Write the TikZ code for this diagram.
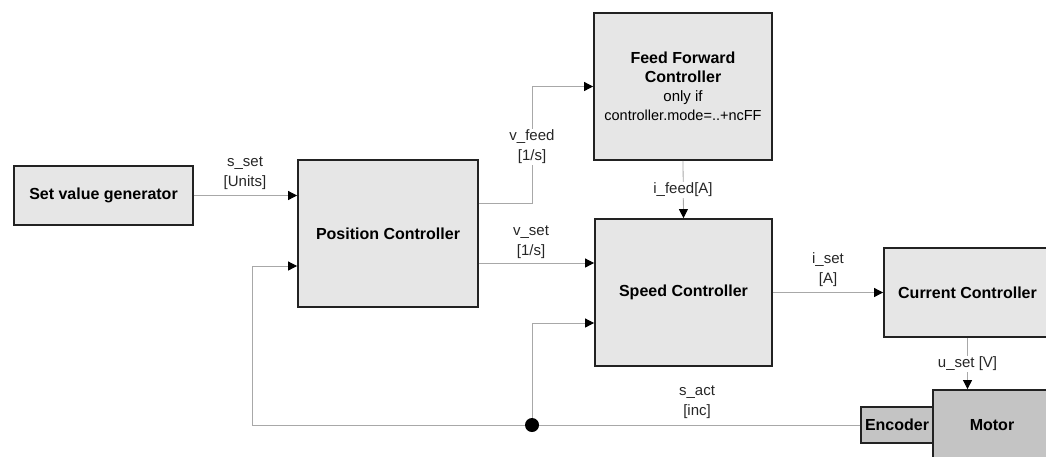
\documentclass[tikz,border=0pt]{standalone}
\usepackage{fontspec}
\setmainfont{Liberation Sans}
\usetikzlibrary{arrows.meta,positioning,calc}

\definecolor{linegray}{HTML}{A8A8A8}
\definecolor{boxfill}{HTML}{E6E6E6}
\definecolor{hwfill}{HTML}{C4C4C4}
\definecolor{boxline}{HTML}{222222}

\begin{document}
\begin{tikzpicture}[
  x=1pt, y=-1pt,
  font=\fontsize{15}{20}\selectfont,
  flow/.style={draw=linegray, line width=0.8pt, -{Triangle[length=9pt,width=9pt,color=black]}},
  wire/.style={draw=linegray, line width=0.8pt},
  block/.style={draw=boxline, fill=boxfill, line width=1.8pt, align=center, inner sep=2pt,
                font=\fontsize{16}{19}\selectfont\bfseries},
  hw/.style={block, fill=hwfill},
  sig/.style={align=center, inner sep=1pt, text=black!85},
  sigcut/.style={sig, fill=white}
]
\useasboundingbox (0,0) rectangle (1046,456);

% ----- Fixed coordinates for tidy layout
\coordinate (Cgen) at (103.5,195.5);
\coordinate (Cpos) at (388,233.5);
\coordinate (Cff)  at (683,86.5);
\coordinate (Cspd) at (683.5,292.5);
\coordinate (Ccur) at (967.5,292.5);
\coordinate (Cmot) at (992,425);
\coordinate (Cenc) at (897,425);

% ----- Controller blocks
\node[block, minimum width=179pt, minimum height=59pt] at (Cgen) (gen) {Set value generator};
\node[block, minimum width=180pt, minimum height=147pt] at (Cpos) (pos) {Position Controller};
\node[block, minimum width=178pt, minimum height=147pt] at (Cff) (ff)
  {Feed Forward\\Controller\\{\mdseries\fontsize{15}{19}\selectfont only if}\\
   {\mdseries\fontsize{14.5}{19}\selectfont controller.mode=..+ncFF}};
\node[block, minimum width=177pt, minimum height=147pt] at (Cspd) (spd) {Speed Controller};
\node[block, minimum width=167pt, minimum height=89pt] at (Ccur) (cur) {Current Controller};

% ----- Drive hardware
\node[hw, minimum width=72pt, minimum height=36pt, inner sep=0pt] at (Cenc) (enc) {Encoder};
\node[hw, minimum width=118pt, minimum height=70pt] at (Cmot) (mot) {Motor};

% ----- Set value path
\draw[flow] (gen.east) -- (gen.east -| pos.west);
\node[sig] at (245,173) (sset) {s\_set\\{}[Units]};

% feed forward branch
\coordinate (vfk) at (532,203);
\draw[flow] (pos.east |- vfk) -- (vfk) |- (ff.west);
\node[sigcut] at (532,147) (vfeed) {v\_feed\\{}[1/s]};

\draw[flow] ($(pos.east)+(0,29.5)$) -- ($(spd.west)+(0,-29.5)$);
\node[sig] at (531,242) (vset) {v\_set\\{}[1/s]};

\draw[flow] (ff.south) -- (spd.north);
\node[sigcut] at (683,190) (ifeed) {i\_feed[A]};

\draw[flow] (spd.east) -- (spd.east -| cur.west);
\node[sig] at (828,270) (iset) {i\_set\\{}[A]};

\draw[flow] (cur.south) -- (cur.south |- mot.north);
\node[sigcut] at (967.5,364) (uset) {u\_set [V]};

% ----- Feedback from encoder
\coordinate (tap) at (532,425);
\coordinate (fbL) at (252,425);
\draw[wire] (enc.west) -- (tap) -- (fbL);
\draw[flow] (fbL) |- ($(pos.west)+(0,32.5)$);
\draw[flow] (tap) |- ($(spd.west)+(0,30.5)$);
\node[circle, fill=black, inner sep=0pt, minimum size=14pt] at (tap) (dot) {};
\node[sig] at (697,402) (sact) {s\_act\\{}[inc]};

\end{tikzpicture}
\end{document}
